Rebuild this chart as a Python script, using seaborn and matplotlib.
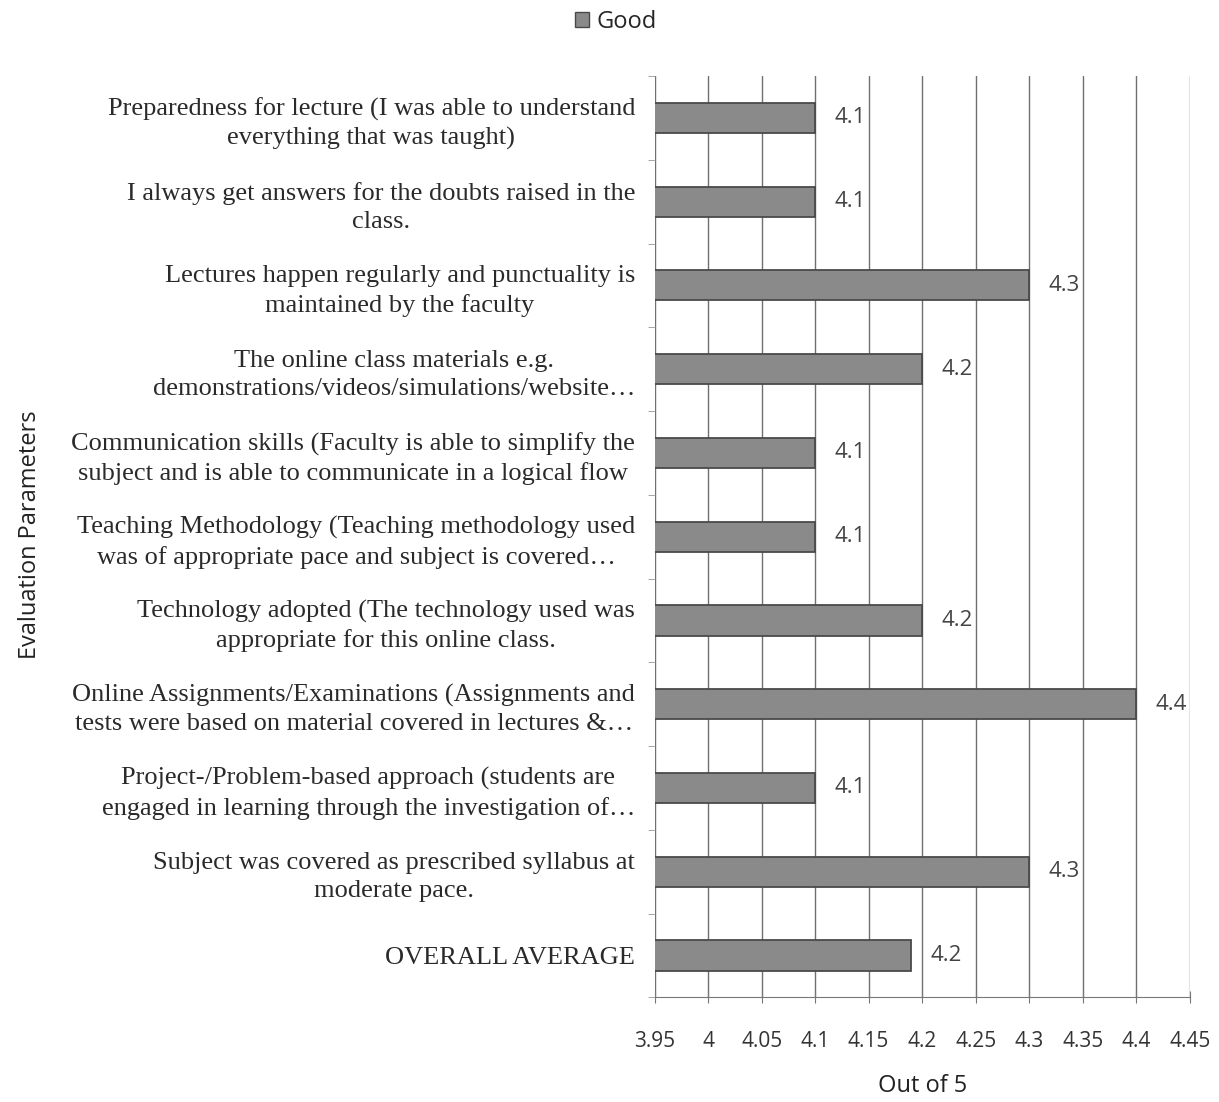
import numpy as np
import pandas as pd
import matplotlib
matplotlib.use("Agg")
import matplotlib.pyplot as plt
import seaborn as sns
from matplotlib.patches import Patch

# ── Dados ────────────────────────────────────────────────────────────────────
PARAMETROS = [
    "Preparedness for lecture (I was able to understand\neverything that was taught)",
    "I always get answers for the doubts raised in the\nclass.",
    "Lectures happen regularly and punctuality is\nmaintained by the faculty",
    "The online class materials e.g.\ndemonstrations/videos/simulations/website…",
    "Communication skills (Faculty is able to simplify the\nsubject and is able to communicate in a logical flow",
    "Teaching Methodology (Teaching methodology used\nwas of appropriate pace and subject is covered…",
    "Technology adopted (The technology used was\nappropriate for this online class.",
    "Online Assignments/Examinations (Assignments and\ntests were based on material covered in lectures &…",
    "Project-/Problem-based approach (students are\nengaged in learning through the investigation of…",
    "Subject was covered as prescribed syllabus at\nmoderate pace.",
    "OVERALL AVERAGE",
]
NOTAS = [4.1, 4.1, 4.3, 4.2, 4.1, 4.1, 4.2, 4.4, 4.1, 4.3, 4.19]
SERIE = "Good"
XTICKS = [3.95, 4, 4.05, 4.1, 4.15, 4.2, 4.25, 4.3, 4.35, 4.4, 4.45]
XTICK_LABELS = ["3.95", "4", "4.05", "4.1", "4.15", "4.2", "4.25", "4.3", "4.35", "4.4", "4.45"]

df = pd.DataFrame({"parametro": PARAMETROS, "nota": NOTAS})

# ── Figura ───────────────────────────────────────────────────────────────────
sns.set_style("white")
SANS = ["Open Sans", "DejaVu Sans"]
SERIF = ["Liberation Serif", "DejaVu Serif"]

fig = plt.figure(figsize=(12.19, 11.02), dpi=100)
ax = fig.add_axes([0.537, 0.095, 0.439, 0.836])

sns.barplot(data=df, x="nota", y="parametro", orient="h", color="#8a8a8a",
            width=0.36, edgecolor="#4a4a4a", linewidth=1.3, saturation=1, ax=ax)

ax.set_xlim(3.95, 4.45)
ax.set_xticks(XTICKS)
ax.set_xticklabels(XTICK_LABELS, fontfamily=SANS, fontsize=15, color="#333333")
ax.grid(axis="x", color="#6f6f6f", linewidth=1.0)
ax.set_axisbelow(True)

for lado in ["top", "right"]:
    ax.spines[lado].set_visible(False)
ax.spines["left"].set_visible(False)
ax.spines["bottom"].set_color("#777777")

ax.tick_params(axis="x", bottom=True, length=8, direction="inout", color="#777777", pad=20)
ax.tick_params(axis="y", which="major", left=True, length=0, pad=14)
ax.set_yticks(np.arange(len(PARAMETROS) + 1) - 0.5, minor=True)
ax.tick_params(axis="y", which="minor", left=True, length=5, color="#999999")

for lbl in ax.get_yticklabels():
    lbl.set_fontfamily(SERIF)
    lbl.set_fontsize(19)
    lbl.set_color("#2a2a2a")
    lbl.set_multialignment("center")
    lbl.set_linespacing(1.35)

# rótulos das barras
ax.bar_label(ax.containers[0], fmt="%.1f", padding=14,
             fontfamily=SANS, fontsize=16, color="#444444")

ax.set_xlabel("Out of 5", fontfamily=SANS, fontsize=17, color="#222222", labelpad=16)
ax.set_ylabel("")
fig.text(0.025, 0.515, "Evaluation Parameters", rotation=90, ha="center", va="center",
         fontfamily=SANS, fontsize=17, color="#222222")

fig.legend(handles=[Patch(facecolor="#8a8a8a", edgecolor="#4a4a4a", label=SERIE)],
           loc="center", bbox_to_anchor=(0.505, 0.98), frameon=False,
           prop={"family": SANS, "size": 17}, handlelength=0.6, handleheight=0.6,
           handletextpad=0.3)

plt.savefig("out.png", dpi=100)
